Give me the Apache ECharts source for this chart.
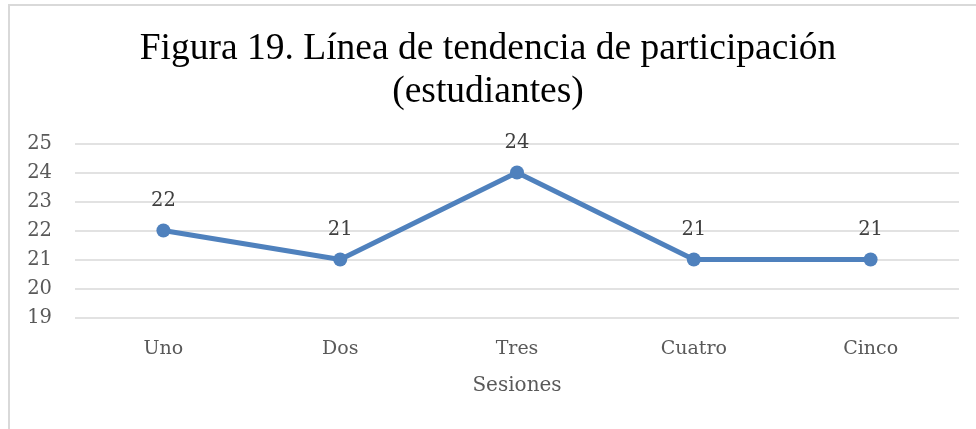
<!DOCTYPE html>
<html>
<head>
<meta charset="utf-8">
<script src="https://cdn.jsdelivr.net/npm/echarts@6/dist/echarts.min.js"></script>
<style>
  html, body { margin: 0; padding: 0; background: #fff; }
  #frame { position: absolute; left: 8px; top: 4px; width: 980px; height: 440px;
           border-left: 2px solid #d9d9d9; border-top: 2px solid #d9d9d9; }
  #chart { position: absolute; left: 0; top: 0; width: 976px; height: 429px; }
</style>
</head>
<body>
<div id="frame"></div>
<div id="chart"></div>
<script>
// datos de la figura
const sesiones = ["Uno", "Dos", "Tres", "Cuatro", "Cinco"];
const estudiantes = [22, 21, 24, 21, 21];

const labelFont = "'DejaVu Serif', 'Liberation Serif', serif";

var chart = echarts.init(document.getElementById("chart"));
chart.setOption({
  animation: false,
  title: {
    text: "Figura 19. Línea de tendencia de participación\n(estudiantes)",
    left: "center",
    top: 23,
    textStyle: {
      fontFamily: "'Liberation Serif', 'Times New Roman', serif",
      fontSize: 37.5,
      fontWeight: "normal",
      color: "#000",
      lineHeight: 43,
      align: "center"
    }
  },
  grid: { left: 75, right: 17, top: 143.5, bottom: 111.5 },
  xAxis: {
    type: "category",
    data: sesiones,
    name: "Sesiones",
    nameLocation: "middle",
    nameGap: 58,
    nameTextStyle: { fontFamily: labelFont, fontSize: 20, color: "#595959" },
    axisLine: { show: false },
    axisTick: { show: false },
    axisLabel: { margin: 22, fontFamily: labelFont, fontSize: 19, color: "#595959" }
  },
  yAxis: {
    type: "value",
    min: 19,
    max: 25,
    interval: 1,
    axisLine: { show: false },
    axisTick: { show: false },
    axisLabel: { margin: 23, fontFamily: labelFont, fontSize: 19.5, color: "#595959" },
    splitLine: { lineStyle: { color: "#d9d9d9", width: 1.5 } }
  },
  series: [
    {
      type: "line",
      data: estudiantes,
      symbol: "circle",
      symbolSize: 14,
      lineStyle: { color: "#4f81bd", width: 5 },
      itemStyle: { color: "#4f81bd" },
      label: {
        show: true,
        position: "top",
        distance: 13,
        fontFamily: labelFont,
        fontSize: 19.5,
        color: "#404040"
      }
    }
  ]
});
</script>
</body>
</html>
